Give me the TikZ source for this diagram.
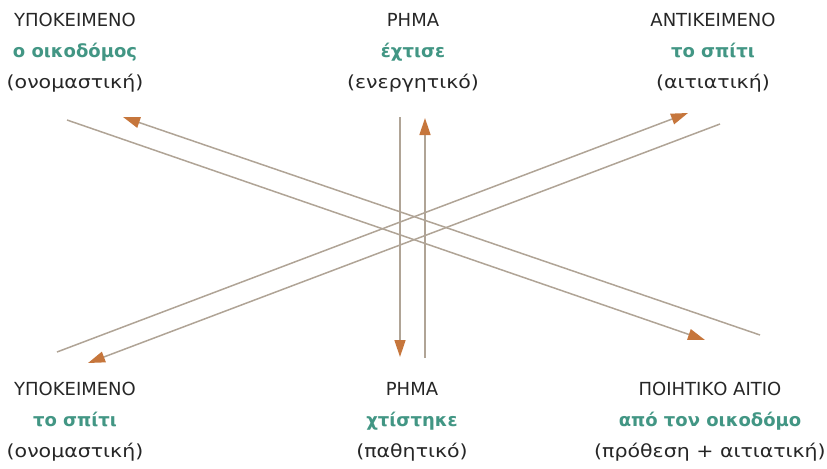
\documentclass[tikz,border=0pt]{standalone}
\usepackage{fontspec}
\setmainfont{DejaVu Sans}
\newfontfamily\casefont[FakeStretch=1.14]{DejaVu Sans}
\usetikzlibrary{arrows.meta}
\definecolor{termgreen}{RGB}{66,150,132}
\definecolor{linegray}{RGB}{176,164,150}
\definecolor{tipbrown}{RGB}{198,118,60}
\newcommand{\wordform}[1]{\textcolor{termgreen}{\bfseries #1}}
\newcommand{\casename}[1]{{\casefont #1}}

\begin{document}
\begin{tikzpicture}[
  term/.style={align=center,inner sep=0pt,text=black!85,
    font=\fontsize{18bp}{31bp}\selectfont},
  link/.style={draw=linegray,line width=1.5bp,
    -{Triangle[length=17bp,width=11bp,color=tipbrown]}}]

\useasboundingbox (0bp,0bp) rectangle (827bp,-469bp);

% active sentence
\node (S1) at (75bp,-53bp)[term] {ΥΠΟΚΕΙΜΕΝΟ\\ \wordform{ο οικοδόμος}\\ \casename{(ονομαστική)}};
\node (V1) at (413bp,-53bp)[term] {ΡΗΜΑ\\ \wordform{έχτισε}\\ \casename{(ενεργητικό)}};
\node (O1) at (713bp,-53bp)[term] {ΑΝΤΙΚΕΙΜΕΝΟ\\ \wordform{το σπίτι}\\ \casename{(αιτιατική)}};
% passive sentence
\node (S2) at (75bp,-422bp)[term] {ΥΠΟΚΕΙΜΕΝΟ\\ \wordform{το σπίτι}\\ \casename{(ονομαστική)}};
\node (V2) at (412bp,-422bp)[term] {ΡΗΜΑ\\ \wordform{χτίστηκε}\\ \casename{(παθητικό)}};
\node (P2) at (710bp,-422bp)[term] {ΠΟΙΗΤΙΚΟ ΑΙΤΙΟ\\ \wordform{από τον οικοδόμο}\\ \casename{(πρόθεση + αιτιατική)}};

% arrow ends
\coordinate (S1a) at (67bp,-120bp);
\coordinate (S1b) at (123bp,-117bp);
\coordinate (P2a) at (705bp,-340bp);
\coordinate (P2b) at (760bp,-335bp);
\coordinate (S2a) at (57bp,-352bp);
\coordinate (S2b) at (88bp,-363bp);
\coordinate (O1a) at (688bp,-113bp);
\coordinate (O1b) at (720bp,-124bp);
\coordinate (V1a) at (400bp,-117bp);
\coordinate (V1b) at (425bp,-118bp);
\coordinate (V2a) at (400bp,-357bp);
\coordinate (V2b) at (425bp,-358bp);

\draw [link] (S1a) to (P2a);
\draw [link] (P2b) to (S1b);
\draw [link] (S2a) to (O1a);
\draw [link] (O1b) to (S2b);
\draw [link] (V1a) to (V2a);
\draw [link] (V2b) to (V1b);
\end{tikzpicture}
\end{document}
